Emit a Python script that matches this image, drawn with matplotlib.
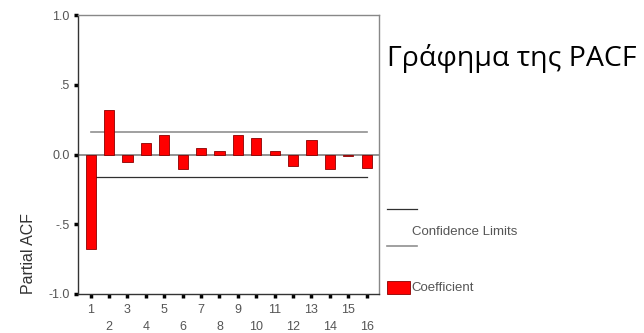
import matplotlib
matplotlib.use("agg")
import matplotlib.pyplot as plt
import numpy as np

lags = np.arange(1, 17)
pacf = [-0.675, 0.32, -0.057, 0.079, 0.139, -0.107, 0.050, 0.022,
        0.143, 0.120, 0.022, -0.083, 0.105, -0.107, -0.014, -0.095]
conf = 0.163
yticks = [-1.0, -0.5, 0.0, 0.5, 1.0]
ytick_labels = ["-1.0", "-.5", "0.0", ".5", "1.0"]

fig = plt.figure(figsize=(6.44, 3.33), dpi=100)
ax = fig.add_axes([78 / 644, 1 - 294 / 333, 301 / 644, 279 / 333])

ax.bar(lags, pacf, width=0.56, color="#ff0000", edgecolor="#8a0000", linewidth=0.6, zorder=3)
ax.axhline(0, color="#808080", linewidth=1.2, zorder=2)
ax.plot([lags[0], lags[-1]], [conf, conf], color="#909090", linewidth=1.2, zorder=2)
ax.plot([lags[0], lags[-1]], [-conf, -conf], color="#303030", linewidth=0.9, zorder=2)

ax.set_xlim(0.31, 16.67)
ax.set_ylim(-1.0, 1.0)
ax.set_yticks(yticks)
ax.set_yticklabels(ytick_labels)

# odd lags on the first row, even lags on a second row below
odd = lags[lags % 2 == 1]
even = lags[lags % 2 == 0]
ax.set_xticks(odd)
ax.set_xticklabels([str(l) for l in odd])
ax.set_xticks(even, minor=True)
ax.set_xticklabels([str(l) for l in even], minor=True)

ax.tick_params(axis="both", which="both", length=3, width=2.5, color="black",
               labelsize=9, labelcolor="#555555")
ax.tick_params(axis="x", which="major", pad=4)
ax.tick_params(axis="x", which="minor", pad=16.5)
ax.tick_params(axis="y", pad=3)
for s in ax.spines.values():
    s.set_color("#888888")
    s.set_linewidth(1.0)
ax.spines["left"].set_color("#333333")
ax.spines["bottom"].set_color("#333333")

ax.set_ylabel("Partial ACF", fontsize=11.5, color="#333333", family="Liberation Sans")
ax.yaxis.set_label_coords(-0.14, 0.0)
ax.yaxis.label.set_verticalalignment("bottom")
ax.yaxis.label.set_horizontalalignment("left")
for lab in ax.get_xticklabels() + ax.get_xticklabels(minor=True) + ax.get_yticklabels():
    lab.set_family("Liberation Sans")

# legend drawn by hand, SPSS style
fig.add_artist(plt.Line2D([387 / 644, 417 / 644], [1 - 209 / 333] * 2, color="#303030", linewidth=0.9))
fig.add_artist(plt.Line2D([387 / 644, 417 / 644], [1 - 246 / 333] * 2, color="#909090", linewidth=1.2))
fig.text(412 / 644, 1 - 232 / 333, "Confidence Limits", fontsize=9.5, color="#555555",
         family="Liberation Sans", va="center", ha="left")
fig.add_artist(plt.Rectangle((387 / 644, 1 - 294 / 333), 23 / 644, 13 / 333,
                             facecolor="#ff0000", edgecolor="#8a0000", linewidth=0.6))
fig.text(411 / 644, 1 - 288 / 333, "Coefficient", fontsize=9.5, color="#555555",
         family="Liberation Sans", va="center", ha="left")

fig.text(387 / 644, 1 - 66 / 333, "Γράφημα της PACF", fontsize=20.5, color="black",
         family="Open Sans", ha="left", va="baseline")

fig.savefig("out.png", dpi=100)
